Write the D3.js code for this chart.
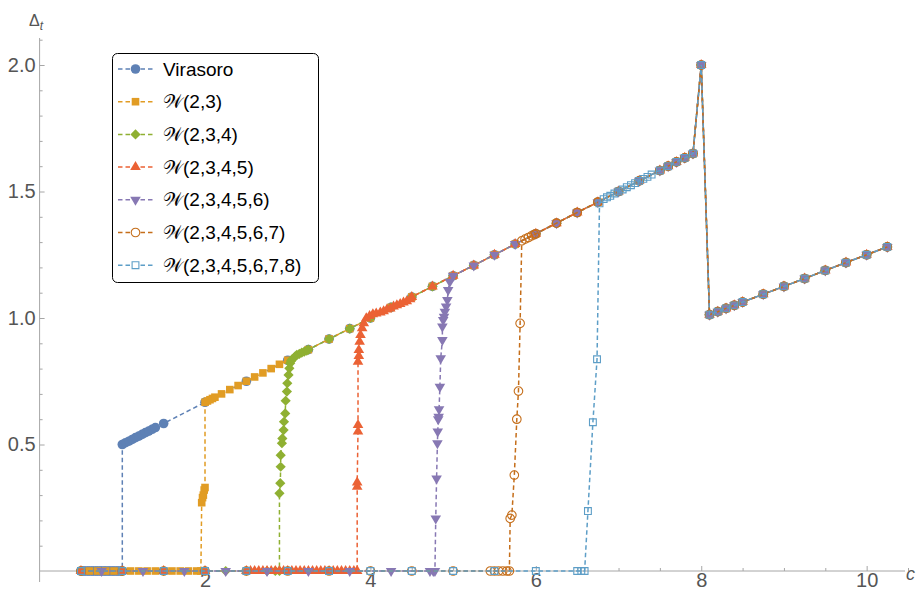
<!DOCTYPE html>
<html>
<head>
<meta charset="utf-8">
<script src="https://cdn.jsdelivr.net/npm/d3@7"></script>
<style>
  body { margin: 0; background: #fff; }
  text { font-family: "Liberation Sans", Arial, sans-serif; }
</style>
</head>
<body>
<svg id="chart" width="917" height="592"></svg>
<script>
// ---- data (c, Delta_t) ----
var seriesNames = ["Virasoro", "𝒲(2,3)", "𝒲(2,3,4)", "𝒲(2,3,4,5)", "𝒲(2,3,4,5,6)", "𝒲(2,3,4,5,6,7)", "𝒲(2,3,4,5,6,7,8)"];
var seriesColors = ["#5E81B5", "#E19C24", "#8FB032", "#EB6235", "#8778B3", "#C56E1A", "#5D9EC7"];

// points that every series shares once it has joined the upper branch
var sharedTail = [[3.25,0.875],[3.5,0.917],[3.75,0.958],[4.0,1.0],[4.25,1.042],[4.5,1.083],[4.75,1.125],
  [5.0,1.167],[5.25,1.208],[5.5,1.25],[5.75,1.292],[6.0,1.333],[6.25,1.375],[6.5,1.417],[6.75,1.458],
  [7.0,1.5],[7.25,1.542],[7.5,1.583],[7.6,1.6],[7.7,1.617],[7.8,1.633],[7.9,1.65],[8.0,2.0],
  [8.1,1.013],[8.2,1.025],[8.3,1.038],[8.4,1.05],[8.5,1.063],[8.75,1.094],[9.0,1.125],[9.25,1.156],
  [9.5,1.188],[9.75,1.219],[10.0,1.25],[10.25,1.281]];

var virasoro = [[0.5,0],[0.53,0],[0.55,0],[0.58,0],[0.6,0],[0.63,0],[0.65,0],[0.68,0],[0.7,0],[0.73,0],
  [0.75,0],[0.78,0],[0.8,0],[0.83,0],[0.85,0],[0.88,0],[0.9,0],[0.93,0],[0.95,0],[0.98,0],[1.0,0],
  [1.0,0.5],[1.04,0.507],[1.08,0.513],[1.12,0.52],[1.16,0.527],[1.2,0.533],[1.24,0.54],[1.28,0.547],
  [1.32,0.553],[1.36,0.56],[1.4,0.567],[1.5,0.583],[2.0,0.667],[2.5,0.75],[3.0,0.833]];

var w23 = [[0.5,0],[0.6,0],[0.7,0],[0.8,0],[0.9,0],[1.0,0],[1.1,0],[1.2,0],[1.3,0],[1.4,0],[1.5,0],
  [1.6,0],[1.7,0],[1.8,0],[1.9,0],[1.95,0],[1.96,0.27],[1.97,0.29],[1.98,0.30],[1.99,0.32],[2.0,0.33],
  [2.0,0.667],[2.03,0.672],[2.06,0.677],[2.09,0.682],[2.12,0.687],[2.2,0.7],[2.3,0.717],[2.4,0.733],
  [2.5,0.75],[2.6,0.767],[2.7,0.783],[2.8,0.8],[2.9,0.817],[3.0,0.833]];

var w234 = [[0.5,0],[1.0,0],[1.5,0],[2.0,0],[2.25,0],[2.5,0],[2.75,0],[2.85,0],[2.9,0],
  [2.9,0.307],[2.91,0.347],[2.915,0.412],[2.915,0.458],[2.93,0.505],[2.935,0.524],[2.95,0.557],
  [2.955,0.59],[2.97,0.623],[2.975,0.673],[2.99,0.709],[2.995,0.742],[3.01,0.775],[3.02,0.801],
  [3.03,0.821],[3.04,0.83],[3.05,0.836],[3.07,0.841],[3.09,0.848],[3.11,0.854],[3.14,0.858],
  [3.17,0.863],[3.2,0.867],[3.23,0.871]];

var w2345 = [[0.5,0],[1.0,0],[1.5,0],[2.0,0],[2.5,0],[2.55,0],[2.6,0],[2.65,0],[2.7,0],[2.75,0],
  [2.8,0],[2.85,0],[2.9,0],[2.95,0],[3.0,0],[3.05,0],[3.1,0],[3.15,0],[3.2,0],[3.25,0],[3.3,0],
  [3.35,0],[3.4,0],[3.45,0],[3.5,0],[3.55,0],[3.6,0],[3.65,0],[3.7,0],[3.75,0],[3.8,0],[3.84,0],
  [3.84,0.333],[3.84,0.35],[3.85,0.551],[3.85,0.577],[3.85,0.827],[3.86,0.85],[3.86,0.874],
  [3.87,0.906],[3.88,0.933],[3.9,0.959],[3.92,0.979],[3.95,0.999],[3.99,1.008],[4.03,1.015],
  [4.07,1.018],[4.12,1.022],[4.16,1.027],[4.2,1.034],[4.24,1.038],[4.28,1.045],[4.32,1.05],
  [4.36,1.055],[4.4,1.061],[4.44,1.066],[4.48,1.074]];

var w23456 = [[0.75,0],[1.25,0],[1.75,0],[2.25,0],[2.75,0],[3.25,0],[3.75,0],[4.25,0],[4.72,0],
  [4.76,0],[4.78,0],[4.79,0.208],[4.8,0.366],[4.81,0.505],[4.814,0.551],[4.82,0.6],[4.825,0.61],
  [4.83,0.639],[4.84,0.728],[4.85,0.841],[4.87,0.913],[4.87,0.966],[4.88,0.992],[4.89,1.005],
  [4.9,1.025],[4.915,1.045],[4.93,1.071],[4.94,1.111],[4.96,1.143]];

var w234567 = [[0.5,0],[1.0,0],[1.5,0],[2.0,0],[2.5,0],[3.0,0],[3.5,0],[4.0,0],[4.5,0],[5.0,0],
  [5.45,0],[5.5,0],[5.55,0],[5.6,0],[5.65,0],[5.68,0],[5.69,0.208],[5.71,0.221],[5.74,0.379],
  [5.77,0.6],[5.79,0.711],[5.81,0.979],[5.83,1.305],[5.87,1.312],[5.91,1.318],[5.95,1.325],[5.98,1.33]];

var w2345678 = [[0.5,0],[1.0,0],[1.5,0],[2.0,0],[2.5,0],[3.0,0],[3.5,0],[4.0,0],[4.5,0],[5.0,0],
  [5.5,0],[6.0,0],[6.5,0],[6.55,0],[6.59,0],[6.63,0.237],[6.69,0.588],[6.74,0.837],[6.77,1.453],
  [6.82,1.47],[6.86,1.477],[6.9,1.483],[6.95,1.492],[7.0,1.5],[7.05,1.508],[7.1,1.517],[7.15,1.525],
  [7.2,1.533],[7.25,1.542],[7.3,1.55],[7.35,1.558],[7.4,1.567]];

var xMajorTicks = [2, 4, 6, 8, 10];
var xMinorTicks = [0.5, 1, 1.5, 2.5, 3, 3.5, 4.5, 5, 5.5, 6.5, 7, 7.5, 8.5, 9, 9.5, 10.5];
var yMajorTicks = [0.5, 1.0, 1.5, 2.0];
var yMinorTicks = [0.1, 0.2, 0.3, 0.4, 0.6, 0.7, 0.8, 0.9, 1.1, 1.2, 1.3, 1.4, 1.6, 1.7, 1.8, 1.9, 2.1];

// ---- setup ----
var svg = d3.select("#chart");
var x = d3.scaleLinear().domain([0, 10.5]).range([39.6, 908]);
var y = d3.scaleLinear().domain([0, 2]).range([571, 65]);
var axisColor = "#a6a6a6", labelColor = "#555";

function withTail(own) {
  var last = own[own.length - 1][0];
  return own.concat(sharedTail.filter(function(p){ return p[0] > last + 1e-9; }));
}
var allSeries = [virasoro, w23, w234, w2345, w23456, w234567, w2345678].map(withTail);

// marker shapes centred on 0,0
var markers = [
  { path: "M4.8,0A4.8,4.8 0 1,1 -4.8,0A4.8,4.8 0 1,1 4.8,0Z", open: false },
  { path: "M-3.8,-3.8h7.6v7.6h-7.6Z", open: false },
  { path: "M0,-5.1L5.1,0L0,5.1L-5.1,0Z", open: false },
  { path: "M0,-6L5.3,3L-5.3,3Z", open: false },
  { path: "M0,6L5.3,-3L-5.3,-3Z", open: false },
  { path: "M4.3,0A4.3,4.3 0 1,1 -4.3,0A4.3,4.3 0 1,1 4.3,0Z", open: true },
  { path: "M-3.4,-3.4h6.8v6.8h-6.8Z", open: true }
];

// ---- axes ----
var gx = svg.append("g").attr("transform", "translate(0," + y(0) + ")");
gx.call(d3.axisBottom(x).tickValues(xMajorTicks).tickSize(-5).tickPadding(2).tickFormat(d3.format("d")));
gx.select(".domain").remove();
var gxm = svg.append("g").attr("transform", "translate(0," + y(0) + ")");
gxm.call(d3.axisBottom(x).tickValues(xMinorTicks).tickSize(-3).tickFormat(""));
gxm.select(".domain").remove();
svg.append("line").attr("x1", x(0)).attr("x2", 905).attr("y1", y(0)).attr("y2", y(0))
  .attr("stroke", axisColor).attr("stroke-width", 1);

var gy = svg.append("g").attr("transform", "translate(" + x(0) + ",0)");
gy.call(d3.axisLeft(y).tickValues(yMajorTicks).tickSize(-5).tickPadding(4).tickFormat(d3.format(".1f")));
gy.select(".domain").remove();
var gym = svg.append("g").attr("transform", "translate(" + x(0) + ",0)");
gym.call(d3.axisLeft(y).tickValues(yMinorTicks).tickSize(-3).tickFormat(""));
gym.select(".domain").remove();
svg.append("line").attr("x1", x(0)).attr("x2", x(0)).attr("y1", 38).attr("y2", 582)
  .attr("stroke", axisColor).attr("stroke-width", 1);

svg.selectAll(".tick line").attr("stroke", axisColor);
svg.selectAll(".tick text").attr("fill", labelColor).style("font-size", "20px")
  .style("font-family", "'Liberation Sans', Arial, sans-serif");

var dl = svg.append("text").attr("x", 29).attr("y", 26).attr("fill", labelColor).style("font-size", "16px");
dl.append("tspan").text("Δ");
dl.append("tspan").attr("dy", 4).style("font-size", "12px").style("font-style", "italic").text("t");
svg.append("text").attr("x", 906).attr("y", 580).attr("fill", labelColor)
  .style("font-size", "18px").style("font-style", "italic").text("c");

// ---- series ----
var line = d3.line().x(function(d){ return x(d[0]); }).y(function(d){ return y(d[1]); });
allSeries.forEach(function(data, i) {
  var g = svg.append("g");
  g.append("path").attr("d", line(data)).attr("fill", "none")
    .attr("stroke", seriesColors[i]).attr("stroke-width", 1.5).attr("stroke-dasharray", "4.5,3");
  g.selectAll("path.m").data(data).enter().append("path").attr("class", "m")
    .attr("d", markers[i].path)
    .attr("transform", function(d){ return "translate(" + x(d[0]) + "," + y(d[1]) + ")"; })
    .attr("fill", markers[i].open ? "none" : seriesColors[i])
    .attr("stroke", markers[i].open ? seriesColors[i] : "none")
    .attr("stroke-width", 1.1);
});

// ---- legend ----
var lg = svg.append("g");
lg.append("rect").attr("x", 112.5).attr("y", 53.5).attr("width", 206).attr("height", 229).attr("rx", 5)
  .attr("fill", "#fff").attr("stroke", "#000").attr("stroke-width", 1);
seriesNames.forEach(function(name, i) {
  var cy = 69 + i * 32.7;
  lg.append("line").attr("x1", 118).attr("x2", 153).attr("y1", cy).attr("y2", cy)
    .attr("stroke", seriesColors[i]).attr("stroke-width", 1.5).attr("stroke-dasharray", "4.5,3");
  lg.append("path").attr("d", markers[i].path).attr("transform", "translate(135.5," + cy + ")")
    .attr("fill", markers[i].open ? "#fff" : seriesColors[i])
    .attr("stroke", markers[i].open ? seriesColors[i] : "none").attr("stroke-width", 1.1);
  lg.append("text").attr("x", 163).attr("y", cy + 6.5).attr("fill", "#000")
    .style("font-size", "19px").text(name);
});
</script>
</body>
</html>
